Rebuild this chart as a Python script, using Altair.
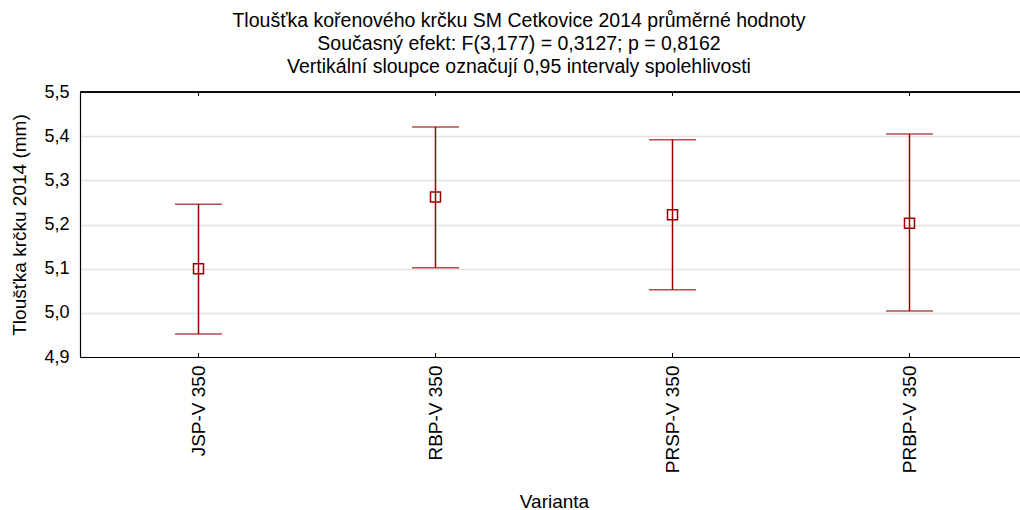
import altair as alt
import pandas as pd

categories = ["JSP-V 350", "RBP-V 350", "PRSP-V 350", "PRBP-V 350"]
means = [5.100, 5.262, 5.222, 5.203]
lower = [4.952, 5.102, 5.052, 5.004]
upper = [5.246, 5.421, 5.392, 5.405]

df = pd.DataFrame({"cat": categories, "mean": means, "lo": lower, "hi": upper})

W, H = 940, 265
RED = "#990000"
FONT = "Liberation Sans"

x_scale = alt.Scale(domain=categories, paddingInner=0, paddingOuter=0, range=[0, 948])
x_axis = alt.Axis(title="Varianta", labelAngle=270, labelAlign="right",
                  labelBaseline="middle", labelPadding=8, ticks=False,
                  domainColor="black", domainWidth=1.2,
                  labelFontSize=19, titleFontSize=19, titleFontWeight="normal",
                  labelColor="black", titleColor="black",
                  titleX=474, titleY=135, grid=False)
x_enc = alt.X("cat:N", sort=categories, scale=x_scale, axis=x_axis)
x_plain = alt.X("cat:N", sort=categories, scale=x_scale)

y_scale = alt.Scale(domain=[4.9, 5.5], nice=False, zero=False)
y_axis = alt.Axis(title="Tloušťka krčku 2014 (mm)", values=[4.9, 5.0, 5.1, 5.2, 5.3, 5.4, 5.5],
                  labelExpr="replace(format(datum.value, '.1f'), '.', ',')",
                  ticks=False, labelPadding=11, domainColor="black", domainWidth=1.2,
                  gridColor="#e3e3e3", gridWidth=1.5,
                  labelFontSize=18, titleFontSize=19, titleFontWeight="normal",
                  labelColor="black", titleColor="black", titleX=-51)

base = alt.Chart(df)

rules = base.mark_rule(color=RED, strokeWidth=1.5).encode(
    x=x_enc, y=alt.Y("lo:Q", scale=y_scale, axis=y_axis), y2="hi:Q")
cap_hi = base.mark_tick(color=RED, size=47, thickness=1.5).encode(
    x=x_plain, y="hi:Q")
cap_lo = base.mark_tick(color=RED, size=47, thickness=1.5).encode(
    x=x_plain, y="lo:Q")
pts = base.mark_square(color=RED, filled=False, size=100, strokeWidth=1.5, opacity=1).encode(
    x=x_plain, y="mean:Q")
tick_bot = base.mark_rule(color="black", strokeWidth=1).encode(
    x=x_plain, y=alt.value(H - 4), y2=alt.value(H))
tick_top = base.mark_rule(color="black", strokeWidth=1).encode(
    x=x_plain, y=alt.value(0), y2=alt.value(4))
top_border = base.mark_rule(color="black", strokeWidth=1.2).encode(
    x=alt.value(0), x2=alt.value(W + 20), y=alt.value(0))

chart = alt.layer(rules, cap_hi, cap_lo, pts, tick_bot, tick_top, top_border).properties(
    width=W, height=H,
    title=alt.Title(
        ["Tloušťka kořenového krčku SM Cetkovice 2014 průměrné hodnoty",
         "Současný efekt: F(3,177) = 0,3127; p = 0,8162",
         "Vertikální sloupce označují 0,95 intervaly spolehlivosti"],
        fontSize=19.5, font=FONT, fontWeight="normal", lineHeight=23,
        anchor="middle", dx=-31, offset=6, color="black"),
    autosize=alt.AutoSizeParams(type="none"),
    padding={"left": 80, "top": 92, "right": 0, "bottom": 153},
).configure(font=FONT).configure_view(stroke=None, strokeWidth=0).configure_axis(
    labelFont=FONT, titleFont=FONT)

chart.save("out.html", embed_options={"renderer": "svg", "actions": False})
